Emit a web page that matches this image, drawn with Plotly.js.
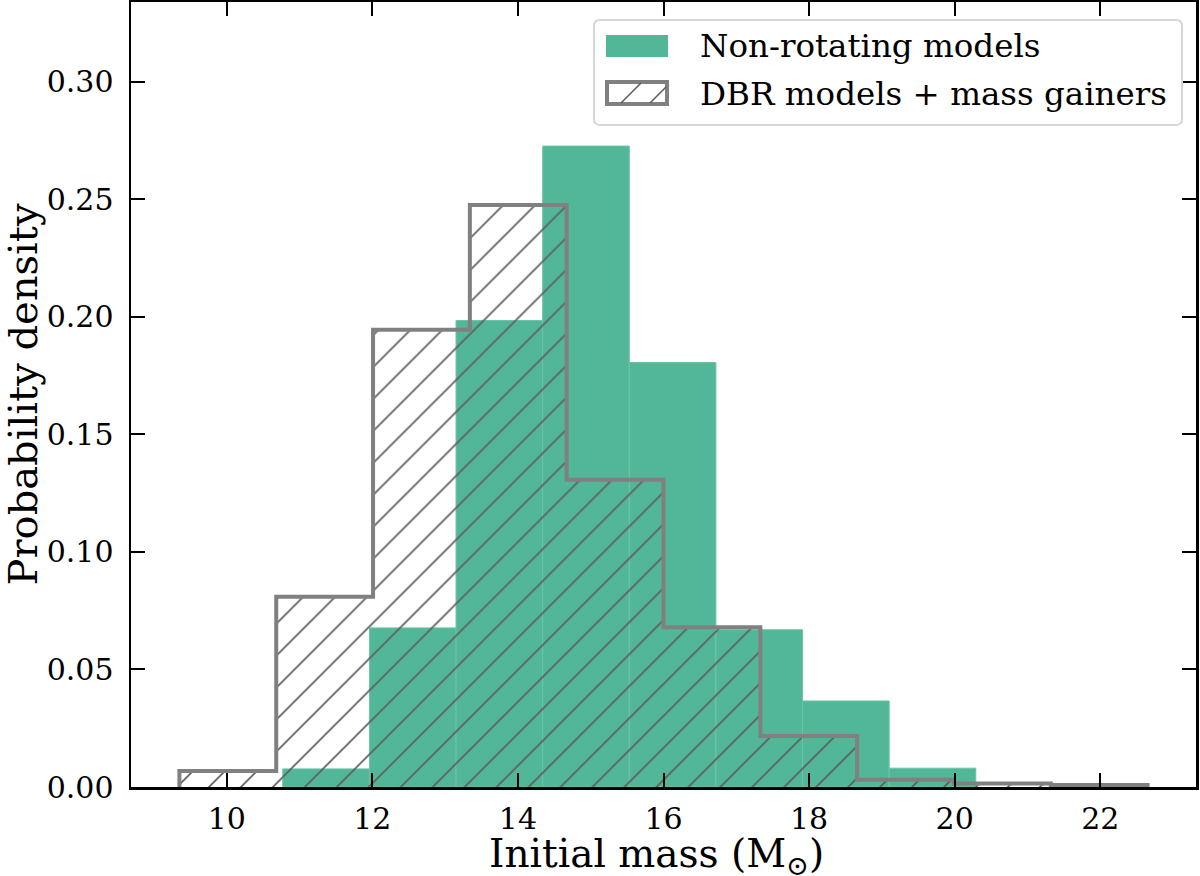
<!DOCTYPE html>
<html>
<head>
<meta charset="utf-8">
<script src="https://cdn.plot.ly/plotly-3.0.1.min.js"></script>
<style>
  html, body { margin: 0; padding: 0; background: #fff; }
  #chart { width: 1200px; height: 876px; }
</style>
</head>
<body>
<div id="chart"></div>
<script>
// Histogram bin edges (initial mass, solar masses)
const nonRotEdges = [10.77, 11.96, 13.15, 14.34, 15.53, 16.72, 17.91, 19.10, 20.29];
const nonRotDensity = [0.0077, 0.0677, 0.1985, 0.2727, 0.1806, 0.0669, 0.0366, 0.0080];

const dbrEdges = [9.35, 10.68, 12.01, 13.34, 14.67, 16.00, 17.33, 18.66, 19.99, 21.32, 22.65];
const dbrDensity = [0.0068, 0.0810, 0.1946, 0.2476, 0.1307, 0.0680, 0.0217, 0.0031, 0.0015, 0.0008];

const xTicks = [10, 12, 14, 16, 18, 20, 22];
const yTicks = [0.00, 0.05, 0.10, 0.15, 0.20, 0.25, 0.30];

const legendLabels = ['Non-rotating models', 'DBR models + mass gainers'];
const xTitle = 'Initial mass (M<sub>⊙</sub>)';
const yTitle = 'Probability density';

const GREEN = '#52b698';
const GRAY = '#808080';
const HATCH = '#5e5e5e';
const FONT = 'DejaVu Serif, Liberation Serif, serif';

function centers(edges) {
  return edges.slice(0, -1).map((e, i) => (e + edges[i + 1]) / 2);
}
function widths(edges) {
  return edges.slice(0, -1).map((e, i) => edges[i + 1] - e);
}

// step outline of the hatched histogram
const stepX = [], stepY = [];
stepX.push(dbrEdges[0]); stepY.push(0);
dbrDensity.forEach((h, i) => {
  stepX.push(dbrEdges[i]); stepY.push(h);
  stepX.push(dbrEdges[i + 1]); stepY.push(h);
});
stepX.push(dbrEdges[dbrEdges.length - 1]); stepY.push(0);

const traces = [
  {
    type: 'bar',
    x: centers(nonRotEdges),
    y: nonRotDensity,
    width: widths(nonRotEdges),
    marker: { color: GREEN, line: { color: '#6cc4a6', width: 1 } },
    hoverinfo: 'x+y',
    showlegend: false
  },
  {
    type: 'bar',
    x: centers(dbrEdges),
    y: dbrDensity,
    width: widths(dbrEdges),
    marker: {
      color: 'rgba(0,0,0,0)',
      line: { width: 0 },
      pattern: {
        shape: '/', size: 22.6, solidity: 0.075,
        fgcolor: HATCH, bgcolor: 'rgba(0,0,0,0)', fillmode: 'replace'
      }
    },
    hoverinfo: 'skip',
    showlegend: false
  },
  {
    type: 'scatter',
    mode: 'lines',
    x: stepX,
    y: stepY,
    line: { color: GRAY, width: 4 },
    hoverinfo: 'skip',
    showlegend: false,
    cliponaxis: true
  }
];

// plot area in pixels, used to place the legend box and x title
const PL = 131, PR = 1196, PT = 2, PB = 787;
const px = x => (x - PL) / (PR - PL);
const py = y => 1 - (y - PT) / (PB - PT);

function roundRectPath(x0, y0, x1, y1, r) {
  const rx = r / (PR - PL), ry = r / (PB - PT);
  const a = px(x0), b = px(x1), t = py(y0), btm = py(y1);
  return `M${a + rx},${t} L${b - rx},${t} Q${b},${t} ${b},${t - ry} ` +
         `L${b},${btm + ry} Q${b},${btm} ${b - rx},${btm} ` +
         `L${a + rx},${btm} Q${a},${btm} ${a},${btm + ry} ` +
         `L${a},${t - ry} Q${a},${t} ${a + rx},${t} Z`;
}

const shapes = [
  {
    type: 'path', xref: 'paper', yref: 'paper',
    path: roundRectPath(594, 20, 1182, 125, 6),
    fillcolor: 'rgba(255,255,255,0.85)',
    line: { color: '#d6d6d6', width: 2 }
  },
  {
    type: 'rect', xref: 'paper', yref: 'paper',
    x0: px(606), x1: px(668), y0: py(35), y1: py(57),
    fillcolor: GREEN, line: { width: 0 }
  },
  {
    type: 'rect', xref: 'paper', yref: 'paper',
    x0: px(607), x1: px(667), y0: py(82), y1: py(104),
    fillcolor: 'rgba(0,0,0,0)', line: { color: GRAY, width: 4 }
  },
  {
    type: 'line', xref: 'paper', yref: 'paper',
    x0: px(621), y0: py(103), x1: px(641), y1: py(83),
    line: { color: HATCH, width: 1.6 }
  },
  {
    type: 'line', xref: 'paper', yref: 'paper',
    x0: px(650), y0: py(103), x1: px(666), y1: py(87),
    line: { color: HATCH, width: 1.6 }
  }
];

const annotations = [
  {
    xref: 'paper', yref: 'paper', x: px(698), y: py(46),
    xanchor: 'left', yanchor: 'middle', showarrow: false,
    text: legendLabels[0], font: { family: FONT, size: 32.5, color: '#000' }
  },
  {
    xref: 'paper', yref: 'paper', x: px(698), y: py(94),
    xanchor: 'left', yanchor: 'middle', showarrow: false,
    text: legendLabels[1], font: { family: FONT, size: 32.5, color: '#000' }
  },
  {
    xref: 'paper', yref: 'paper', x: px(656), y: py(883),
    xanchor: 'center', yanchor: 'bottom', showarrow: false,
    text: xTitle, font: { family: FONT, size: 39, color: '#000' }
  }
];

const axisCommon = {
  showline: true, linecolor: '#000', linewidth: 2.5, mirror: 'ticks',
  ticks: 'inside', ticklen: 14, tickwidth: 2, tickcolor: '#000',
  showgrid: false, zeroline: false,
  tickfont: { family: FONT, size: 30, color: '#000' }
};

const layout = {
  width: 1200, height: 876,
  margin: { l: PL, r: 1200 - PR, t: PT, b: 876 - PB },
  paper_bgcolor: '#fff', plot_bgcolor: '#fff',
  barmode: 'overlay', bargap: 0,
  showlegend: false,
  xaxis: Object.assign({}, axisCommon, {
    range: [8.685, 23.315],
    tickvals: xTicks,
    ticktext: xTicks.map(String),
    ticklabelstandoff: 3,
    automargin: false
  }),
  yaxis: Object.assign({}, axisCommon, {
    range: [0, 0.334],
    tickvals: yTicks,
    ticktext: yTicks.map(v => v.toFixed(2)),
    ticklabelstandoff: 9,
    title: { text: yTitle, font: { family: FONT, size: 40, color: '#000' }, standoff: 6 },
    automargin: false
  }),
  shapes: shapes,
  annotations: annotations
};

Plotly.newPlot('chart', traces, layout, { displayModeBar: false, staticPlot: true });
</script>
</body>
</html>
